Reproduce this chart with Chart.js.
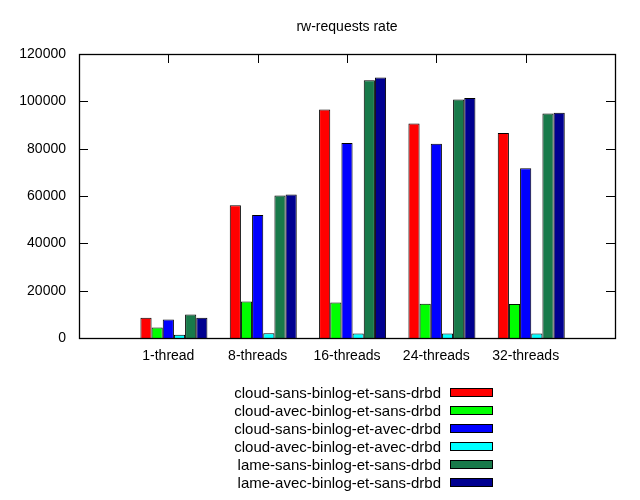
<!DOCTYPE html>
<html>
<head>
<meta charset="utf-8">
<script src="https://cdn.jsdelivr.net/npm/chart.js@4.4.1/dist/chart.umd.min.js"></script>
<style>
  html, body { margin: 0; padding: 0; background: #fff; }
  #wrap { position: relative; width: 640px; height: 500px; }
  #legend { position: absolute; left: 0; top: 383px; width: 493px; font-family: "Liberation Sans", Arial, sans-serif; font-size: 15px; color: #000; }
  .row { display: flex; justify-content: flex-end; align-items: center; height: 18px; }
  .row span.t { margin-right: 9px; white-space: nowrap; }
  .row span.b { display: inline-block; width: 41px; height: 7px; border: 1px solid #000; }
</style>
</head>
<body>
<div id="wrap">
  <canvas id="c" width="640" height="500"></canvas>
  <div id="legend"></div>
</div>
<script>
const chartTitle = 'rw-requests rate';
const categories = ['1-thread', '8-threads', '16-threads', '24-threads', '32-threads'];
const seriesNames = [
  'cloud-sans-binlog-et-sans-drbd',
  'cloud-avec-binlog-et-sans-drbd',
  'cloud-sans-binlog-et-avec-drbd',
  'cloud-avec-binlog-et-avec-drbd',
  'lame-sans-binlog-et-sans-drbd',
  'lame-avec-binlog-et-sans-drbd'
];
const cloudSansSans = [8600, 56100, 96600, 90600, 86600];
const cloudAvecSans = [4400, 15400, 15000, 14500, 14400];
const cloudSansAvec = [7800, 52000, 82400, 82100, 71700];
const cloudAvecAvec = [1400, 2000, 1900, 1900, 1900];
const lameSansSans  = [9900, 60200, 108900, 100800, 94900];
const lameAvecSans  = [8600, 60600, 110100, 101400, 95200];
const seriesColors = ['#ff0000', '#00ff00', '#0000ff', '#00ffff', '#187a4a', '#000090'];
const yTicksStep = 20000;
const yMax = 120000;

const seriesValues = [cloudSansSans, cloudAvecSans, cloudSansAvec, cloudAvecAvec, lameSansSans, lameAvecSans];
const CLUSTER_SHIFT = 1 / 16; // gnuplot clustered histogram offset

const datasets = seriesValues.map((vals, s) => ({
  label: seriesNames[s],
  data: vals.map((v, i) => ({ x: i + CLUSTER_SHIFT, y: v })),
  backgroundColor: seriesColors[s],
  borderColor: '#000',
  borderWidth: 1,
  categoryPercentage: 0.75,
  barPercentage: 1.0
}));

const framePlugin = {
  id: 'frame',
  beforeDatasetsDraw(chart) {
    const { ctx, chartArea: a, scales: { x, y } } = chart;
    ctx.save();
    ctx.strokeStyle = '#000';
    ctx.lineWidth = 1;
    ctx.beginPath();
    y.ticks.forEach((t, i) => {
      const py = Math.round(y.getPixelForTick(i)) + 0.5;
      ctx.moveTo(a.left, py); ctx.lineTo(a.left + 9, py);
      ctx.moveTo(a.right, py); ctx.lineTo(a.right - 9, py);
    });
    x.ticks.forEach((t, i) => {
      if (categories[t.value] === undefined) return;
      const px = Math.round(x.getPixelForTick(i)) + 0.5;
      ctx.moveTo(px, a.top); ctx.lineTo(px, a.top + 9);
      ctx.moveTo(px, a.bottom); ctx.lineTo(px, a.bottom - 9);
    });
    ctx.stroke();
    ctx.restore();
  },
  afterDatasetsDraw(chart) {
    const { ctx, chartArea: a } = chart;
    ctx.save();
    ctx.strokeStyle = '#000';
    ctx.lineWidth = 1.3;
    ctx.strokeRect(Math.round(a.left) + 0.5, Math.round(a.top) + 0.5, Math.round(a.right - a.left), Math.round(a.bottom - a.top));
    ctx.restore();
  }
};

const font = { family: '"Liberation Sans", Arial, sans-serif', size: 14, weight: 'normal' };

new Chart(document.getElementById('c'), {
  type: 'bar',
  data: { datasets },
  plugins: [framePlugin],
  options: {
    responsive: false,
    devicePixelRatio: 1,
    animation: false,
    layout: { padding: { left: 0, right: 25, top: 0, bottom: 0 } },
    plugins: {
      legend: { display: false },
      tooltip: { enabled: false },
      title: {
        display: true,
        text: chartTitle,
        fullSize: false,
        color: '#000',
        font: font,
        padding: { top: 18.6, bottom: 18.6 }
      }
    },
    scales: {
      x: {
        type: 'linear',
        min: -1,
        max: 5,
        offset: false,
        grid: { display: false, drawTicks: false, offset: false },
        border: { display: false },
        ticks: {
          stepSize: 1,
          autoSkip: false,
          maxRotation: 0,
          padding: 10,
          color: '#000',
          font: font,
          callback: (v) => (categories[v] !== undefined ? categories[v] : '')
        },
        afterFit: (s) => { s.height = 162; }
      },
      y: {
        min: 0,
        max: yMax,
        grid: { display: false, drawTicks: false },
        border: { display: false },
        ticks: {
          stepSize: yTicksStep,
          padding: 13,
          color: '#000',
          font: font,
          callback: (v) => String(v)
        },
        afterFit: (s) => { s.width = 79; }
      }
    }
  }
});

const legendEl = document.getElementById('legend');
seriesNames.forEach((name, s) => {
  const row = document.createElement('div');
  row.className = 'row';
  const t = document.createElement('span');
  t.className = 't';
  t.textContent = name;
  const b = document.createElement('span');
  b.className = 'b';
  b.style.background = seriesColors[s];
  row.appendChild(t);
  row.appendChild(b);
  legendEl.appendChild(row);
});
</script>
</body>
</html>
